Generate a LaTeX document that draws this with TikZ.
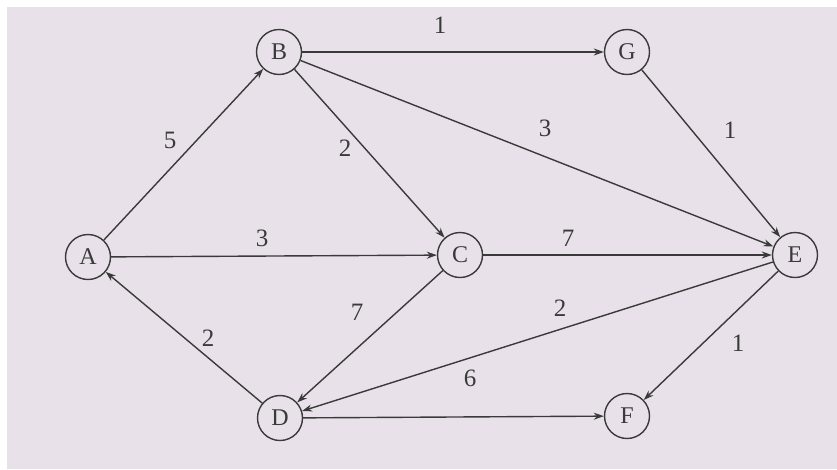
\documentclass[tikz,border=0pt]{standalone}
\usepackage{fontspec}
\setmainfont{Liberation Serif}
\usetikzlibrary{arrows.meta}
\definecolor{bg}{HTML}{E8E1E9}
\definecolor{ink}{HTML}{3A3A3A}
\begin{document}
\begin{tikzpicture}[x=1pt,y=-1pt,
  vtx/.style={circle,draw=ink,line width=1.4pt,minimum size=45pt,inner sep=0pt,font=\fontsize{24}{24}\selectfont,text=ink},
  edge/.style={draw=ink,line width=1.4pt,-{Stealth[length=10pt,width=7pt]}},
  wt/.style={font=\fontsize{25}{25}\selectfont,text=ink}]
\useasboundingbox (0,0) rectangle (837,469);
\fill[white] (0,0) rectangle (837,469);
\fill[bg] (7,7) rectangle (837,469);
\node[vtx] (A) at (88,257) {A};
\node[vtx] (B) at (279,52) {B};
\node[vtx] (G) at (627,52) {G};
\node[vtx] (C) at (460,255) {C};
\node[vtx] (E) at (795,255) {E};
\node[vtx] (D) at (280,418) {D};
\node[vtx] (F) at (627,416) {F};
\draw[edge] (A) -- (B);
\draw[edge] (B) -- (G);
\draw[edge] (B) -- (C);
\draw[edge] (B) -- (E);
\draw[edge] (G) -- (E);
\draw[edge] (A) -- (C);
\draw[edge] (C) -- (E);
\draw[edge] (C) -- (D);
\draw[edge] (D) -- (A);
\draw[edge] (E) -- (D);
\draw[edge] (E) -- (F);
\draw[edge] (D) -- (F);
\node[wt] (w1) at (170,140) {5};
\node[wt] (w2) at (440,25) {1};
\node[wt] (w3) at (345,148) {2};
\node[wt] (w4) at (545,128) {3};
\node[wt] (w5) at (730,130) {1};
\node[wt] (w6) at (262,238) {3};
\node[wt] (w7) at (568,238) {7};
\node[wt] (w8) at (357,312) {7};
\node[wt] (w9) at (208,338) {2};
\node[wt] (w10) at (560,308) {2};
\node[wt] (w11) at (738,343) {1};
\node[wt] (w12) at (470,378) {6};
\end{tikzpicture}
\end{document}
